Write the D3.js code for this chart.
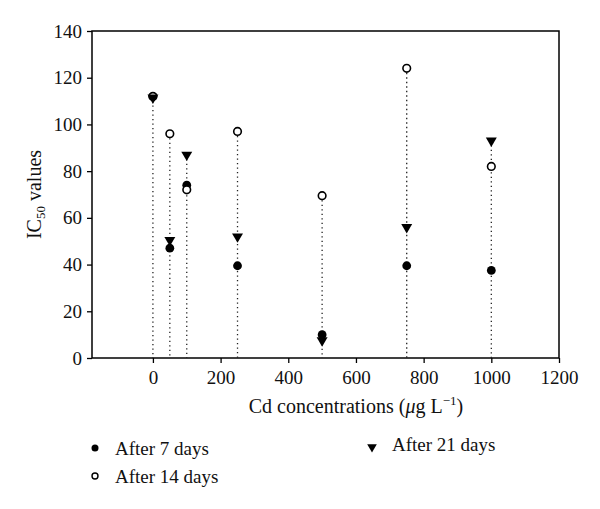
<!DOCTYPE html>
<html><head><meta charset="utf-8">
<script src="https://cdn.jsdelivr.net/npm/d3@7"></script>
<style>body{margin:0;background:#fff}</style>
</head><body>
<svg id="c" width="600" height="509"></svg>
<script>
const concentrations = [0, 50, 100, 250, 500, 750, 1000];
const after7 = [112, 47, 74, 39.5, 10, 39.5, 37.5];
const after14 = [112, 96, 72, 97, 69.5, 124, 82];
const after21 = [111.5, 50.5, 87, 52, 7.5, 56, 93];
const xTicks = [0, 200, 400, 600, 800, 1000, 1200];
const yTicks = [0, 20, 40, 60, 80, 100, 120, 140];
const seriesNames = ["After 7 days", "After 14 days", "After 21 days"];

const svg = d3.select("#c");
const font = "'Liberation Serif', 'DejaVu Serif', serif";
const L = 92, R = 559, T = 31, B = 358;
const x = d3.scaleLinear().domain([-180, 1200]).range([L, R]);
const y = d3.scaleLinear().domain([0, 140]).range([B, T]);

// frame
svg.append("rect").attr("x", L).attr("y", T).attr("width", R - L).attr("height", B - T)
  .attr("fill", "none").attr("stroke", "#000").attr("stroke-width", 1.5);

// drop lines
concentrations.forEach((c, i) => {
  const top = Math.max(after7[i], after14[i], after21[i]);
  svg.append("line").attr("x1", x(c)).attr("x2", x(c)).attr("y1", y(top)).attr("y2", y(0))
    .attr("stroke", "#222").attr("stroke-width", 1.3).attr("stroke-dasharray", "1.3,3.2");
});

const xa = svg.append("g").attr("transform", `translate(0,${B})`)
  .call(d3.axisBottom(x).tickValues(xTicks).tickSize(5).tickPadding(8).tickFormat(d3.format("d")));
const ya = svg.append("g").attr("transform", `translate(${L},0)`)
  .call(d3.axisLeft(y).tickValues(yTicks).tickSize(5).tickPadding(5).tickFormat(d3.format("d")));
[xa, ya].forEach(a => {
  a.selectAll("line").attr("stroke-width", 1.3);
  a.selectAll("text").attr("font-family", font).attr("font-size", 19).attr("fill", "#111");
});
xa.select(".domain").remove();
ya.select(".domain").remove();

// markers
const tri = d3.symbol().type(d3.symbolTriangle).size(52);
function drawFilled(g, cx, cy) {
  g.append("circle").attr("cx", cx).attr("cy", cy).attr("r", 4.4).attr("fill", "#000");
}
function drawOpen(g, cx, cy) {
  g.append("circle").attr("cx", cx).attr("cy", cy).attr("r", 3.8).attr("fill", "#fff")
    .attr("stroke", "#000").attr("stroke-width", 1.6);
}
function drawTri(g, cx, cy) {
  g.append("path").attr("d", tri()).attr("transform", `translate(${cx},${cy}) rotate(180)`).attr("fill", "#000");
}
const pts = svg.append("g");
concentrations.forEach((c, i) => drawFilled(pts, x(c), y(after7[i])));
concentrations.forEach((c, i) => drawOpen(pts, x(c), y(after14[i])));
concentrations.forEach((c, i) => drawTri(pts, x(c), y(after21[i])));

// axis labels
const xl = svg.append("text").attr("x", x(600)).attr("y", 413).attr("text-anchor", "middle")
  .attr("font-family", font).attr("font-size", 20).attr("fill", "#111");
xl.append("tspan").text("Cd concentrations (");
xl.append("tspan").attr("font-style", "italic").text("μ");
xl.append("tspan").text("g L");
xl.append("tspan").attr("dy", -8).attr("font-size", 13).text("−1");
xl.append("tspan").attr("dy", 8).text(")");

const yl = svg.append("text").attr("transform", `translate(41,${(T + B) / 2}) rotate(-90)`)
  .attr("text-anchor", "middle").attr("font-family", font).attr("font-size", 20).attr("fill", "#111");
yl.append("tspan").text("IC");
yl.append("tspan").attr("dy", 4).attr("font-size", 13).text("50");
yl.append("tspan").attr("dy", -4).text(" values");

// legend
const leg = [
  {name: seriesNames[0], mx: 95, my: 448, ty: 455, draw: (g, a, b) => g.append("circle").attr("cx", a).attr("cy", b).attr("r", 3.5).attr("fill", "#000")},
  {name: seriesNames[1], mx: 95, my: 476, ty: 483, draw: (g, a, b) => g.append("circle").attr("cx", a).attr("cy", b).attr("r", 3).attr("fill", "#fff").attr("stroke", "#000").attr("stroke-width", 1.4)},
  {name: seriesNames[2], mx: 372, my: 447, ty: 451, draw: (g, a, b) => g.append("path").attr("d", d3.symbol().type(d3.symbolTriangle).size(40)()).attr("transform", `translate(${a},${b}) rotate(180)`).attr("fill", "#000")}
];
const lg = svg.append("g");
leg.forEach(d => {
  d.draw(lg, d.mx, d.my);
  lg.append("text").attr("x", d.mx + 20).attr("y", d.ty).attr("font-family", font)
    .attr("font-size", 19).attr("fill", "#111").text(d.name);
});
</script>
</body></html>
